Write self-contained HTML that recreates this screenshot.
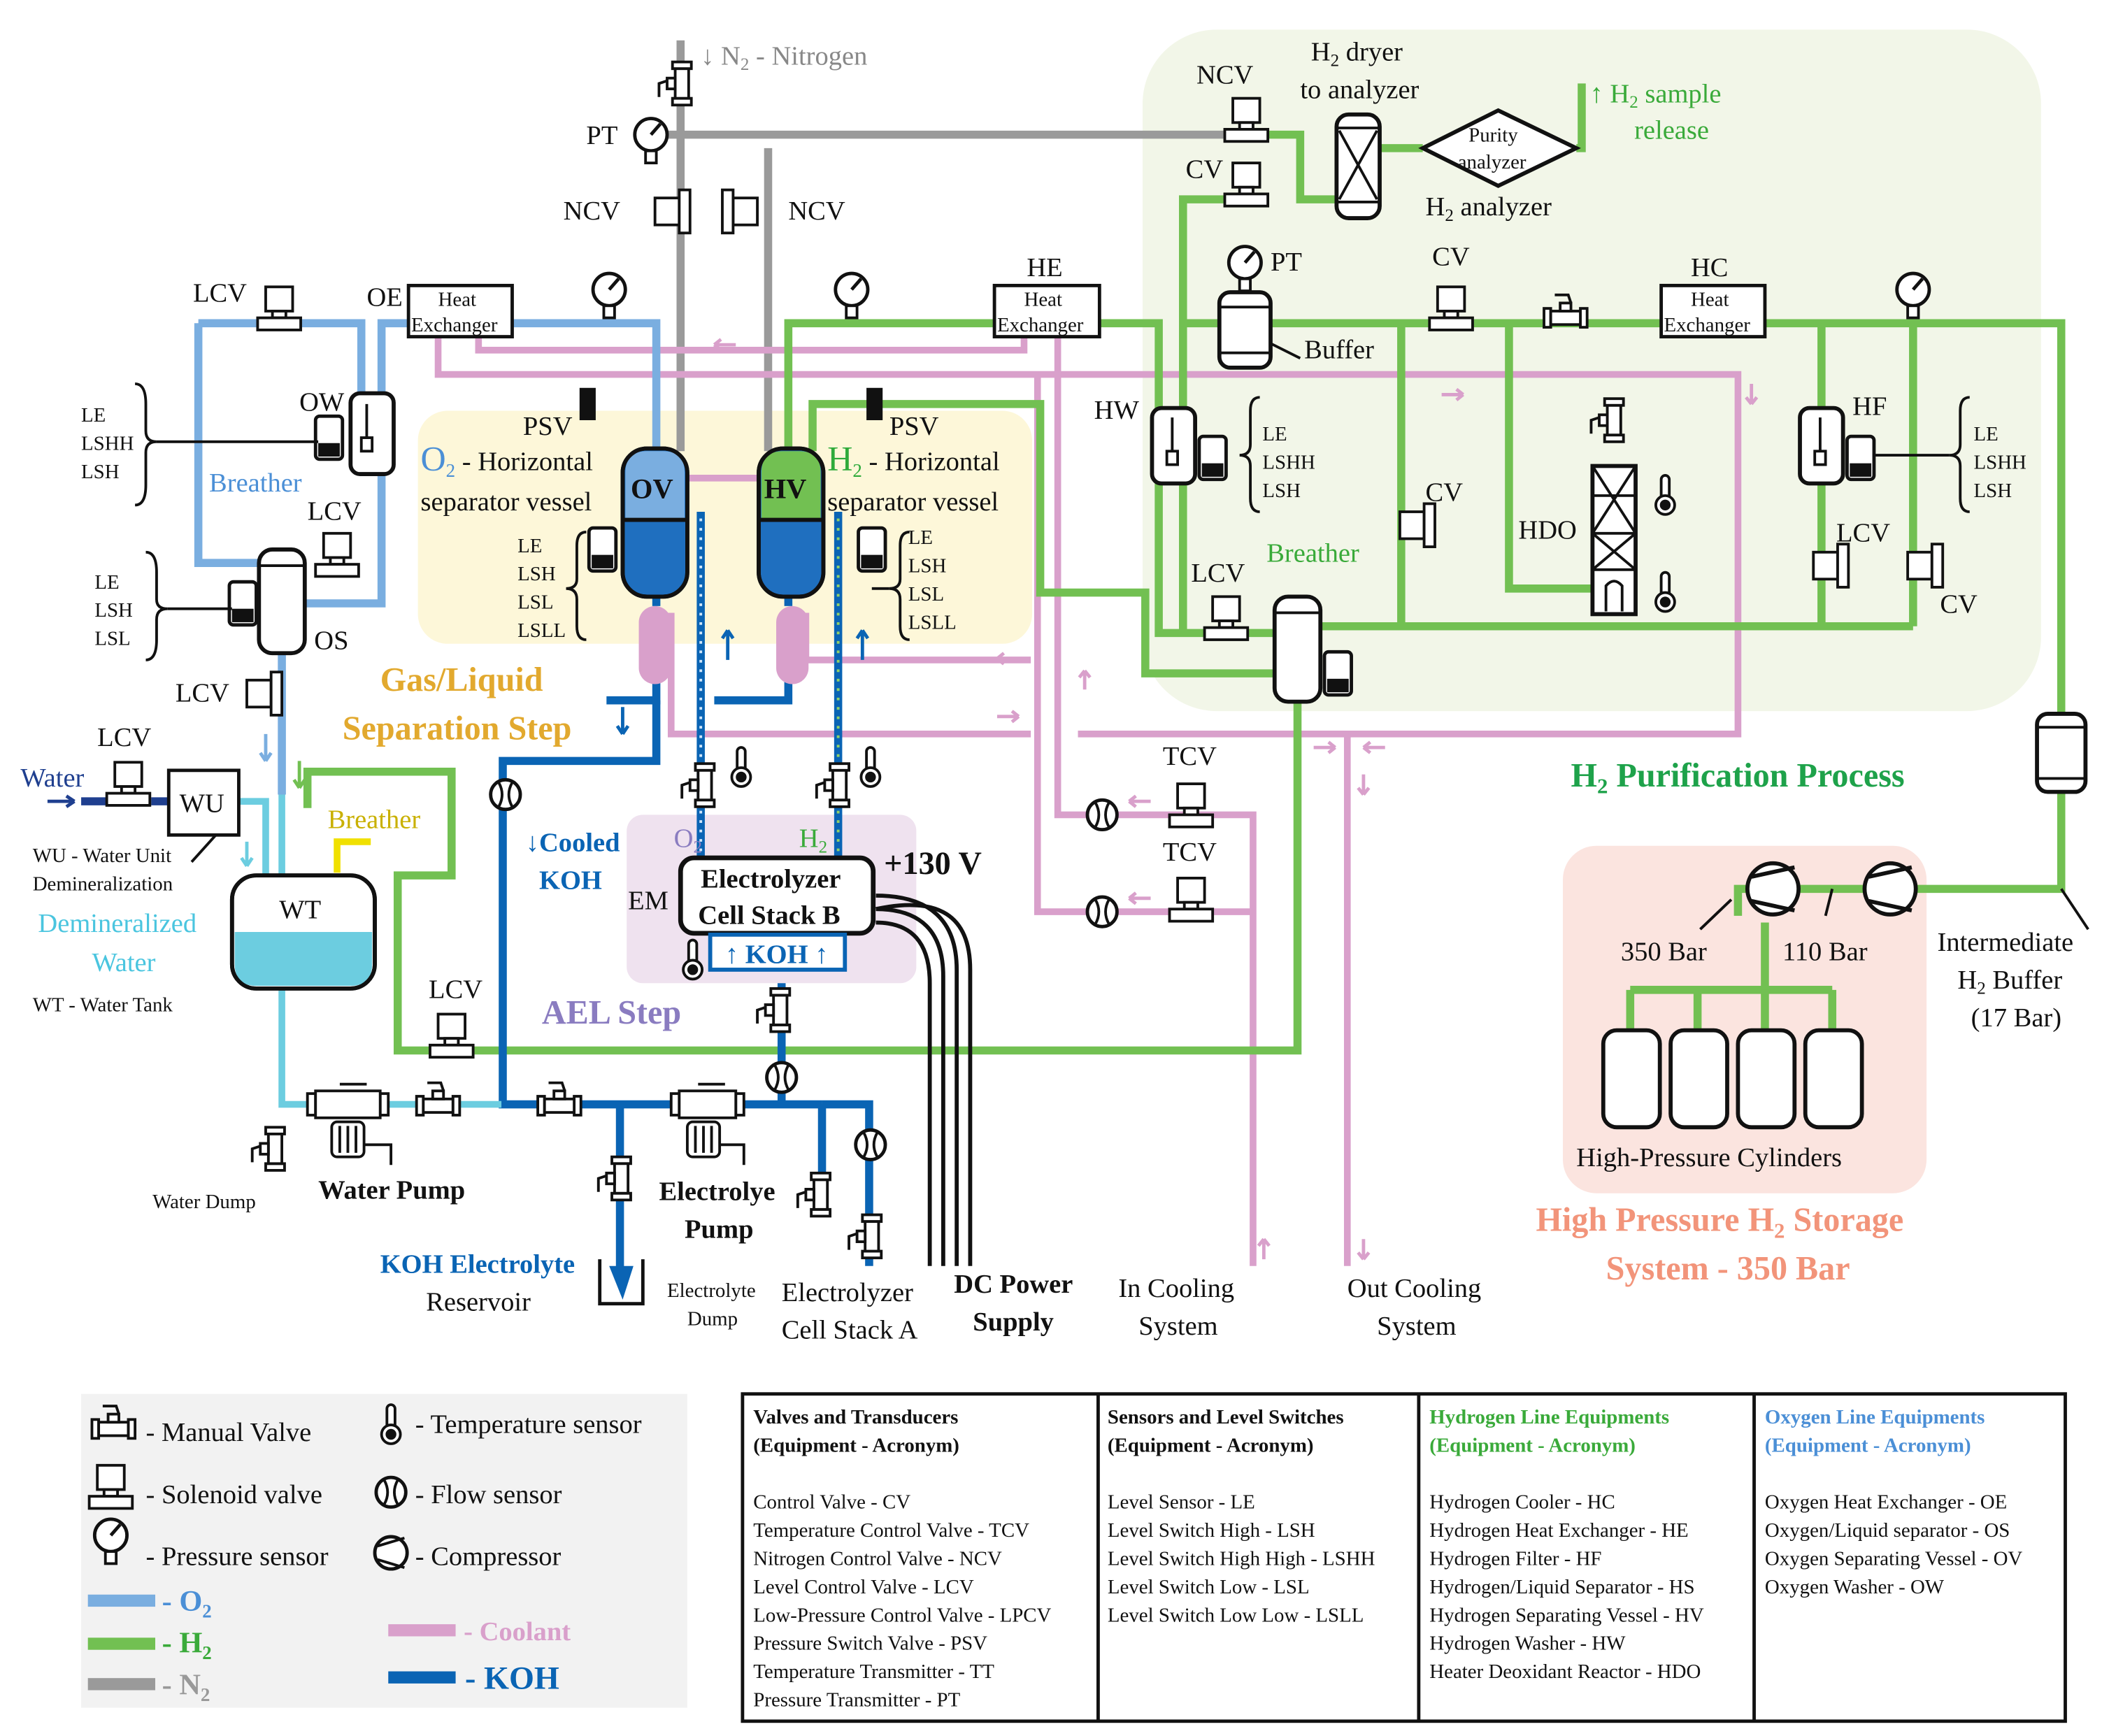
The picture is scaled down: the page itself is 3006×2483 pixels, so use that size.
<!DOCTYPE html>
<html><head><meta charset="utf-8"><style>
html,body{margin:0;padding:0;background:#fff;}
svg{display:block;}
text{font-family:"Liberation Serif",serif;fill:#111;}
</style></head><body>
<svg width="3006" height="2483" viewBox="0 0 1560 1289" xmlns="http://www.w3.org/2000/svg">
<defs>
<g id="sol"><rect x="-10" y="-22" width="20" height="18" fill="#fff" stroke="#111" stroke-width="2"/><rect x="-5" y="-4" width="10" height="5" fill="#fff" stroke="#111" stroke-width="2"/><rect x="-16" y="1" width="32" height="9" fill="#fff" stroke="#111" stroke-width="2"/></g>
<g id="solv"><rect x="4" y="-10" width="18" height="20" fill="#fff" stroke="#111" stroke-width="2"/><rect x="-4" y="-16" width="8" height="32" fill="#fff" stroke="#111" stroke-width="2"/></g>
<g id="gauge"><circle cx="0" cy="0" r="12" fill="#fff" stroke="#111" stroke-width="2.5"/><line x1="0" y1="0" x2="7" y2="-8" stroke="#111" stroke-width="2.5"/><rect x="-4" y="12" width="8" height="9" fill="#fff" stroke="#111" stroke-width="2"/></g>
<g id="flow"><circle r="11" fill="#fff" stroke="#111" stroke-width="2.5"/><path d="M-5,-9 Q0,0 -5,9 M5,-9 Q0,0 5,9" fill="none" stroke="#111" stroke-width="2"/></g>
<g id="mv"><rect x="-16" y="-6" width="5" height="14" fill="#fff" stroke="#111" stroke-width="2"/><rect x="11" y="-6" width="5" height="14" fill="#fff" stroke="#111" stroke-width="2"/><rect x="-11" y="-4" width="22" height="10" fill="#fff" stroke="#111" stroke-width="2"/><rect x="-4" y="-10" width="8" height="6" fill="#fff" stroke="#111" stroke-width="2"/><path d="M-8,-16 L2,-16 L4,-10" fill="none" stroke="#111" stroke-width="2"/></g>
<g id="mvv"><rect x="-6" y="-16" width="14" height="5" fill="#fff" stroke="#111" stroke-width="2"/><rect x="-6" y="11" width="14" height="5" fill="#fff" stroke="#111" stroke-width="2"/><rect x="-4" y="-11" width="10" height="22" fill="#fff" stroke="#111" stroke-width="2"/><rect x="-10" y="-4" width="6" height="8" fill="#fff" stroke="#111" stroke-width="2"/><path d="M-16,10 L-16,0 L-10,-2" fill="none" stroke="#111" stroke-width="2"/></g>
<g id="therm"><rect x="-3" y="-22" width="6" height="18" rx="3" fill="#fff" stroke="#111" stroke-width="2"/><circle cx="0" cy="0" r="7" fill="#fff" stroke="#111" stroke-width="2"/><circle cx="0" cy="0" r="4" fill="#111"/></g>
<g id="ls"><rect x="-10" y="-16" width="20" height="32" rx="3" fill="#fff" stroke="#111" stroke-width="2.5"/><rect x="-8" y="4" width="16" height="10" fill="#111"/></g>
<g id="comp"><circle r="19" fill="#fff" stroke="#111" stroke-width="3"/><path d="M-16,-9 L16,-16 M-16,9 L16,16" stroke="#111" stroke-width="3"/></g>
</defs>

<rect x="848" y="22" width="667" height="506" rx="55" fill="#f2f6e8"/>
<rect x="310" y="305" width="456" height="173" rx="22" fill="#fdf7d9"/>
<rect x="465" y="605" width="215" height="125" rx="12" fill="#efe2ef"/>
<rect x="1160" y="628" width="270" height="258" rx="25" fill="#fbe4df"/>
<rect x="60" y="1035" width="450" height="233" fill="#f2f2f2"/>

<g stroke="#9a9a9a" stroke-width="6" fill="none">
<path d="M505,30 V335"/><path d="M570,110 V335"/><path d="M495,100 H910"/>
</g>
<g stroke="#d9a0cb" stroke-width="5" fill="none">
<path d="M325,250 V278 H1290 V545 H800"/>
<path d="M355,250 V260 H760 V250"/>
<path d="M1000,545 V940"/>
<path d="M785,250 V605 H930 V940"/>
<path d="M770,278 V677 H930"/>
<path d="M510,355 H562"/>
<path d="M498,455 V545 H765"/>
<path d="M598,455 V490 H765"/>
</g>
<g stroke="#7aaee0" stroke-width="6" fill="none">
<path d="M487,335 V240 H380"/>
<path d="M303,240 H283 V448 H226"/>
<path d="M147,240 V418 H192"/>
<path d="M147,240 H268 V292"/>
<path d="M209,485 V590"/>
</g>
<g stroke="#72c052" stroke-width="6" fill="none">
<path d="M585,335 V240 H740"/>
<path d="M815,240 H860 V470 H946"/>
<path d="M603,335 V300 H772 V440 H850 V500 H946"/>
<path d="M878,470 V148 H925"/>
<path d="M940,100 H965 V148 H992"/>
<path d="M1025,110 H1056"/><path d="M1170,110 H1174 V62"/>
<path d="M878,240 H1233"/>
<path d="M1310,240 H1530 V660 H1420"/>
<path d="M1040,240 V465"/><path d="M1120,240 V437 H1182"/>
<path d="M1352,240 V465"/><path d="M1420,240 V465"/>
<path d="M978,465 H1420"/>
<path d="M963,520 V780 H295 V650 H335 V573 H228 V600"/>
<path d="M1383,660 H1335"/><path d="M1297,660 H1290 V680"/>
<path d="M1210,735 H1360"/><path d="M1310,685 V735"/>
<path d="M1210,735 V765 M1260,735 V765 M1310,735 V765 M1360,735 V765"/>
</g>
<g stroke="#0a64b4" stroke-width="6" fill="none">
<path d="M487,442 V450"/><path d="M487,505 V520 H450"/>
<path d="M487,520 V565 H373 V820 H610"/>
<path d="M585,442 V450"/><path d="M585,505 V520 H530"/>
<path d="M610,820 H645 V940"/>
<path d="M580,730 V820"/>
<path d="M460,820 V945"/><path d="M610,820 V895"/>
<path d="M520,380 V640"/><path d="M622,380 V640"/>
</g>
<g stroke="#cfe6fa" stroke-width="2" stroke-dasharray="2 5" fill="none"><path d="M520,385 V635"/></g>
<g stroke="#8fd06a" stroke-width="2" stroke-dasharray="2 5" fill="none"><path d="M622,385 V635"/></g>
<g stroke="#6ccde0" stroke-width="5" fill="none">
<path d="M178,595 H197 V650"/><path d="M209,590 V650"/><path d="M209,735 V820 H372"/>
</g>
<path d="M60,595 H80" stroke="#1f3f8f" stroke-width="6"/>
<path d="M112,595 H125" stroke="#1f3f8f" stroke-width="6"/>
<g stroke="#111" stroke-width="3" fill="none">
<path d="M650,665 Q710,665 710,720 V940"/><path d="M650,675 Q700,675 700,725 V940"/><path d="M650,685 Q690,685 690,730 V940"/>
<path d="M650,675 Q720,660 720,720 V940"/>
</g>

<rect x="462" y="333" width="48" height="110" rx="18" fill="#1f6fbf" stroke="#111" stroke-width="3"/>
<path d="M464,385 V351 Q464,335 480,335 H492 Q508,335 508,351 V385 Z" fill="#7aaee0"/>
<line x1="462" y1="386" x2="510" y2="386" stroke="#111" stroke-width="3"/>
<rect x="462" y="333" width="48" height="110" rx="18" fill="none" stroke="#111" stroke-width="3"/>
<text x="468" y="370" font-size="21" font-weight="bold">OV</text>
<rect x="563" y="333" width="48" height="110" rx="18" fill="#1f6fbf" stroke="#111" stroke-width="3"/>
<path d="M565,385 V351 Q565,335 581,335 H593 Q609,335 609,351 V385 Z" fill="#72c052"/>
<line x1="563" y1="386" x2="611" y2="386" stroke="#111" stroke-width="3"/>
<rect x="563" y="333" width="48" height="110" rx="18" fill="none" stroke="#111" stroke-width="3"/>
<text x="567" y="370" font-size="21" font-weight="bold">HV</text>
<rect x="474" y="450" width="24" height="58" rx="12" fill="#d9a0cb"/>
<rect x="576" y="450" width="24" height="58" rx="12" fill="#d9a0cb"/>
<rect x="430" y="288" width="12" height="24" fill="#111"/><rect x="643" y="288" width="12" height="24" fill="#111"/>

<rect x="260" y="292" width="32" height="60" rx="7" fill="#fff" stroke="#111" stroke-width="3"/><line x1="272" y1="300" x2="272" y2="330" stroke="#111" stroke-width="2"/><rect x="268" y="325" width="8" height="10" fill="#fff" stroke="#111" stroke-width="2"/>
<rect x="192" y="408" width="34" height="77" rx="10" fill="#fff" stroke="#111" stroke-width="3"/><line x1="192" y1="420" x2="226" y2="420" stroke="#111" stroke-width="2"/>
<rect x="855" y="303" width="32" height="56" rx="7" fill="#fff" stroke="#111" stroke-width="3"/><line x1="870" y1="310" x2="870" y2="335" stroke="#111" stroke-width="2"/><rect x="866" y="335" width="8" height="10" fill="#fff" stroke="#111" stroke-width="2"/>
<rect x="1336" y="303" width="32" height="56" rx="7" fill="#fff" stroke="#111" stroke-width="3"/><line x1="1351" y1="310" x2="1351" y2="335" stroke="#111" stroke-width="2"/><rect x="1347" y="335" width="8" height="10" fill="#fff" stroke="#111" stroke-width="2"/>
<rect x="946" y="443" width="34" height="78" rx="10" fill="#fff" stroke="#111" stroke-width="3"/><line x1="946" y1="455" x2="980" y2="455" stroke="#111" stroke-width="2"/>
<rect x="905" y="217" width="38" height="56" rx="8" fill="#fff" stroke="#111" stroke-width="3"/><line x1="905" y1="228" x2="943" y2="228" stroke="#111" stroke-width="2"/><line x1="905" y1="262" x2="943" y2="262" stroke="#111" stroke-width="2"/>
<rect x="992" y="85" width="32" height="77" rx="9" fill="#fff" stroke="#111" stroke-width="3"/><path d="M992,95 H1024 M992,150 H1024 M994,97 L1022,148 M1022,97 L994,148" stroke="#111" stroke-width="2"/>
<rect x="1512" y="530" width="36" height="58" rx="8" fill="#fff" stroke="#111" stroke-width="3"/><line x1="1512" y1="540" x2="1548" y2="540" stroke="#111" stroke-width="2"/><line x1="1512" y1="578" x2="1548" y2="578" stroke="#111" stroke-width="2"/>
<rect x="1182" y="346" width="32" height="110" fill="#fff" stroke="#111" stroke-width="3"/><path d="M1182,368 H1214 M1182,396 H1214 M1182,423 H1214 M1182,346 L1214,396 M1214,346 L1182,396 M1182,396 L1214,423 M1214,396 L1182,423" stroke="#111" stroke-width="2"/><path d="M1192,454 V435 Q1198,428 1204,435 V454" fill="none" stroke="#111" stroke-width="2"/>
<polygon points="1056,110 1112,82 1170,110 1112,138" fill="#fff" stroke="#111" stroke-width="3"/>
<text x="1090" y="105" font-size="15">Purity</text><text x="1082" y="125" font-size="15">analyzer</text>
<rect x="303" y="212" width="77" height="38" fill="#fff" stroke="#111" stroke-width="2.5"/><text x="325" y="227" font-size="15">Heat</text><text x="305" y="246" font-size="15">Exchanger</text>
<rect x="738" y="212" width="78" height="38" fill="#fff" stroke="#111" stroke-width="2.5"/><text x="760" y="227" font-size="15">Heat</text><text x="740" y="246" font-size="15">Exchanger</text>
<rect x="1233" y="212" width="77" height="38" fill="#fff" stroke="#111" stroke-width="2.5"/><text x="1255" y="227" font-size="15">Heat</text><text x="1235" y="246" font-size="15">Exchanger</text>
<rect x="125" y="572" width="52" height="48" fill="#fff" stroke="#111" stroke-width="2.5"/><text x="133" y="603" font-size="20">WU</text>
<rect x="172" y="650" width="106" height="84" rx="18" fill="#fff" stroke="#111" stroke-width="3"/>
<path d="M174,692 H276 V716 Q276,732 260,732 H190 Q174,732 174,716 Z" fill="#6ccde0"/>
<rect x="172" y="650" width="106" height="84" rx="18" fill="none" stroke="#111" stroke-width="3"/>
<text x="207" y="682" font-size="20">WT</text>
<path d="M250,648 V625 H275" stroke="#f0e000" stroke-width="5" fill="none"/>
<rect x="505" y="637" width="143" height="56" rx="10" fill="#fff" stroke="#111" stroke-width="3.5"/>
<text x="520" y="659" font-size="20" font-weight="bold">Electrolyzer</text><text x="518" y="686" font-size="20" font-weight="bold">Cell Stack B</text>
<rect x="527" y="694" width="100" height="26" fill="#fff" stroke="#0a64b4" stroke-width="3"/>
<text x="538" y="715" font-size="20" font-weight="bold" style="fill:#0a64b4">↑ KOH ↑</text>
<path d="M445,935 V968 H477 V935" fill="none" stroke="#111" stroke-width="2.5"/><polygon points="452,940 470,940 462,965" fill="#0a64b4"/>
<g fill="#fff" stroke="#111" stroke-width="3">
<rect x="1190" y="765" width="42" height="72" rx="10"/><rect x="1240" y="765" width="42" height="72" rx="10"/><rect x="1290" y="765" width="42" height="72" rx="10"/><rect x="1340" y="765" width="42" height="72" rx="10"/>
</g>
<use href="#comp" x="1316" y="660"/><use href="#comp" x="1403" y="660"/>
<path d="M1285,668 L1262,690 M1360,660 L1355,680 M1530,660 L1550,690" stroke="#111" stroke-width="2"/>

<use href="#sol" x="207" y="235"/><use href="#sol" x="250" y="418"/><use href="#sol" x="95" y="588"/>
<use href="#sol" x="925" y="95"/><use href="#sol" x="925" y="143"/><use href="#sol" x="1077" y="235"/>
<use href="#sol" x="910" y="465"/><use href="#sol" x="884" y="604"/><use href="#sol" x="884" y="674"/><use href="#sol" x="335" y="775"/>
<use href="#solv" x="205" y="515" transform="rotate(180 205 515)"/>
<use href="#solv" x="508" y="157" transform="rotate(180 508 157)"/><use href="#solv" x="540" y="157"/>
<use href="#solv" x="1043" y="390" transform="rotate(180 1052 390)"/><use href="#solv" x="1350" y="420" transform="rotate(180 1359 420)"/><use href="#solv" x="1420" y="420" transform="rotate(180 1429 420)"/>
<use href="#gauge" x="483" y="100"/><use href="#gauge" x="452" y="215"/><use href="#gauge" x="632" y="215"/><use href="#gauge" x="924" y="195"/><use href="#gauge" x="1420" y="215"/>
<use href="#flow" x="375" y="590"/><use href="#flow" x="580" y="800"/><use href="#flow" x="646" y="850"/><use href="#flow" x="818" y="605"/><use href="#flow" x="818" y="677"/>
<use href="#mv" x="1162" y="235"/><use href="#mv" x="325" y="820"/><use href="#mv" x="415" y="820"/>
<use href="#mvv" x="505" y="62"/><use href="#mvv" x="522" y="583"/><use href="#mvv" x="622" y="583"/><use href="#mvv" x="1197" y="312"/>
<use href="#mvv" x="203" y="853"/><use href="#mvv" x="460" y="875"/><use href="#mvv" x="608" y="887"/><use href="#mvv" x="646" y="918"/><use href="#mvv" x="578" y="750"/>
<use href="#therm" x="550" y="577"/><use href="#therm" x="646" y="577"/><use href="#therm" x="514" y="720"/><use href="#therm" x="1236" y="375"/><use href="#therm" x="1236" y="447"/>
<use href="#ls" x="244" y="325"/><use href="#ls" x="180" y="448"/><use href="#ls" x="447" y="408"/><use href="#ls" x="647" y="408"/><use href="#ls" x="900" y="340"/><use href="#ls" x="1381" y="340"/><use href="#ls" x="993" y="500"/>
<g stroke="#111" stroke-width="2" fill="#fff">
<rect x="228" y="812" width="6" height="16"/><rect x="282" y="812" width="6" height="16"/><rect x="234" y="810" width="48" height="20"/><rect x="246" y="833" width="24" height="26" rx="4"/>
<rect x="498" y="812" width="6" height="16"/><rect x="546" y="812" width="6" height="16"/><rect x="504" y="810" width="42" height="20"/><rect x="510" y="833" width="24" height="26" rx="4"/>
</g>
<g stroke="#111" stroke-width="2" fill="none">
<path d="M252,836 V856 M258,836 V856 M264,836 V856 M516,836 V856 M522,836 V856 M528,836 V856"/>
<path d="M270,850 H290 V865 M534,850 H552 V865 M252,805 H272 M518,805 H538"/>
</g>
<g stroke="#111" stroke-width="2" fill="none">
<path d="M100,285 Q108,285 108,300 V320 Q108,328 116,328 Q108,328 108,336 V360 Q108,375 100,375"/><line x1="116" y1="328" x2="236" y2="328"/>
<path d="M108,410 Q116,410 116,425 V445 Q116,452 124,452 Q116,452 116,460 V475 Q116,490 108,490"/><line x1="124" y1="452" x2="172" y2="452"/>
<path d="M435,395 Q428,395 428,405 V430 Q428,437 420,437 Q428,437 428,445 V465 Q428,475 435,475"/>
<path d="M675,395 Q668,395 668,405 V430 Q668,437 660,437 Q668,437 668,445 V465 Q668,475 675,475"/><line x1="647" y1="437" x2="660" y2="437"/>
<path d="M935,295 Q928,295 928,305 V330 Q928,338 920,338 Q928,338 928,346 V370 Q928,380 935,380"/>
<path d="M1462,295 Q1455,295 1455,305 V330 Q1455,338 1447,338 Q1455,338 1455,346 V370 Q1455,380 1462,380"/><line x1="1390" y1="338" x2="1447" y2="338"/>
<path d="M943,255 L965,266 M1262,690 L1285,668 M142,640 L160,620"/>
</g>
<g stroke="#d9a0cb" stroke-width="2.5" fill="none">
<path d="M530,256 H546 M530,256 l5,-4 M530,256 l5,4"/>
<path d="M1070,293 H1086 M1086,293 l-5,-4 M1086,293 l-5,4"/>
<path d="M740,489 H756 M740,489 l5,-4 M740,489 l5,4"/>
<path d="M740,532 H756 M756,532 l-5,-4 M756,532 l-5,4"/>
<path d="M975,555 H991 M991,555 l-5,-4 M991,555 l-5,4"/>
<path d="M1012,555 H1028 M1012,555 l5,-4 M1012,555 l5,4"/>
<path d="M838,595 H854 M838,595 l5,-4 M838,595 l5,4"/>
<path d="M838,667 H854 M838,667 l5,-4 M838,667 l5,4"/>
<path d="M1300,285 V300 M1300,300 l-4,-5 M1300,300 l4,-5"/>
<path d="M805,512 V498 M805,498 l-4,5 M805,498 l4,5"/>
<path d="M1012,575 V590 M1012,590 l-4,-5 M1012,590 l4,-5"/>
<path d="M938,935 V920 M938,920 l-4,5 M938,920 l4,5"/>
<path d="M1012,920 V935 M1012,935 l-4,-5 M1012,935 l4,-5"/>
</g>
<g stroke="#0a64b4" stroke-width="2.5" fill="none">
<path d="M540,490 V468 M540,468 l-4,6 M540,468 l4,6"/>
<path d="M640,490 V468 M640,468 l-4,6 M640,468 l4,6"/>
<path d="M462,525 V545 M462,545 l-4,-6 M462,545 l4,-6"/>
</g>
<path d="M197,545 V565 M197,565 l-4,-6 M197,565 l4,-6" stroke="#7aaee0" stroke-width="2.5" fill="none"/>
<path d="M183,625 V643 M183,643 l-4,-6 M183,643 l4,-6" stroke="#6ccde0" stroke-width="2.5" fill="none"/>
<path d="M222,565 V585 M222,585 l-4,-6 M222,585 l4,-6" stroke="#72c052" stroke-width="2.5" fill="none"/>
<path d="M35,595 H55 M55,595 l-6,-4 M55,595 l-6,4" stroke="#1f3f8f" stroke-width="2.5" fill="none"/>

<g font-size="20">
<text x="520" y="48" style="fill:#888">↓ N<tspan font-size="13" dy="4">2</tspan><tspan dy="-4"> - Nitrogen</tspan></text>
<text x="435" y="107">PT</text><text x="418" y="163">NCV</text><text x="585" y="163">NCV</text>
<text x="888" y="62">NCV</text><text x="973" y="45">H<tspan font-size="13" dy="4">2</tspan><tspan dy="-4"> dryer</tspan></text><text x="965" y="73">to analyzer</text>
<text x="880" y="132">CV</text><text x="1058" y="160">H<tspan font-size="13" dy="4">2</tspan><tspan dy="-4"> analyzer</tspan></text>
<text x="1180" y="76" style="fill:#3aaa3a">↑ H<tspan font-size="13" dy="4">2</tspan><tspan dy="-4"> sample</tspan></text><text x="1213" y="103" style="fill:#3aaa3a">release</text>
<text x="943" y="201">PT</text><text x="968" y="266">Buffer</text><text x="1063" y="197">CV</text><text x="1255" y="205">HC</text><text x="762" y="205">HE</text>
<text x="143" y="224">LCV</text><text x="272" y="227">OE</text><text x="222" y="305">OW</text>
<text x="155" y="365" style="fill:#4b8fd6">Breather</text><text x="228" y="386">LCV</text><text x="233" y="482">OS</text>
<text x="130" y="521">LCV</text><text x="72" y="554">LCV</text><text x="15" y="584" style="fill:#1f3f8f">Water</text>
<text x="28" y="692" style="fill:#4ac5df">Demineralized</text><text x="68" y="721" style="fill:#4ac5df">Water</text>
<text x="243" y="615" style="fill:#c9b000">Breather</text><text x="318" y="741">LCV</text>
<text x="388" y="323">PSV</text><text x="660" y="323">PSV</text>
<text x="312" y="349"><tspan style="fill:#4b8fd6" font-size="26">O</tspan><tspan style="fill:#4b8fd6" font-size="14" dy="5">2</tspan><tspan dy="-5"> - Horizontal</tspan></text><text x="312" y="379">separator vessel</text>
<text x="614" y="349"><tspan style="fill:#2eaa3a" font-size="26">H</tspan><tspan style="fill:#2eaa3a" font-size="14" dy="5">2</tspan><tspan dy="-5"> - Horizontal</tspan></text><text x="614" y="379">separator vessel</text>
<text x="812" y="311">HW</text><text x="1058" y="372">CV</text><text x="884" y="432">LCV</text><text x="940" y="417" style="fill:#3aaa3a">Breather</text>
<text x="1127" y="400">HDO</text><text x="1375" y="308">HF</text><text x="1363" y="402">LCV</text><text x="1440" y="455">CV</text>
<text x="863" y="568">TCV</text><text x="863" y="639">TCV</text><text x="466" y="675">EM</text>
<text x="500" y="629" style="fill:#8a7cc0">O<tspan font-size="13" dy="4">2</tspan></text><text x="593" y="629" style="fill:#3aaa3a">H<tspan font-size="13" dy="4">2</tspan></text>
<text x="1203" y="713">350 Bar</text><text x="1323" y="713">110 Bar</text><text x="1170" y="866">High-Pressure Cylinders</text>
<text x="1438" y="706">Intermediate</text><text x="1453" y="734">H<tspan font-size="13" dy="4">2</tspan><tspan dy="-4"> Buffer</tspan></text><text x="1463" y="762">(17 Bar)</text>
<text x="580" y="966">Electrolyzer</text><text x="580" y="994">Cell Stack A</text>
<text x="830" y="963">In Cooling</text><text x="845" y="991">System</text><text x="1000" y="963">Out Cooling</text><text x="1022" y="991">System</text>
<text x="316" y="973">Reservoir</text>
</g>
<g font-size="15">
<text x="60" y="313">LE</text><text x="60" y="334">LSHH</text><text x="60" y="355">LSH</text>
<text x="70" y="437">LE</text><text x="70" y="458">LSH</text><text x="70" y="479">LSL</text>
<text x="384" y="410">LE</text><text x="384" y="431">LSH</text><text x="384" y="452">LSL</text><text x="384" y="473">LSLL</text>
<text x="674" y="404">LE</text><text x="674" y="425">LSH</text><text x="674" y="446">LSL</text><text x="674" y="467">LSLL</text>
<text x="937" y="327">LE</text><text x="937" y="348">LSHH</text><text x="937" y="369">LSH</text>
<text x="1465" y="327">LE</text><text x="1465" y="348">LSHH</text><text x="1465" y="369">LSH</text>
<text x="24" y="640">WU - Water Unit</text><text x="24" y="661">Demineralization</text><text x="24" y="751">WT - Water Tank</text>
<text x="113" y="897">Water Dump</text><text x="495" y="963">Electrolyte</text><text x="510" y="984">Dump</text>
</g>
<g font-weight="bold">
<text x="656" y="649" font-size="24">+130 V</text>
<text x="390" y="632" font-size="20" style="fill:#0a64b4">↓Cooled</text><text x="400" y="660" font-size="20" style="fill:#0a64b4">KOH</text>
<text x="402" y="760" font-size="25" style="fill:#8a7cc0">AEL Step</text>
<text x="282" y="513" font-size="25" style="fill:#e2a92e">Gas/Liquid</text><text x="254" y="549" font-size="25" style="fill:#e2a92e">Separation Step</text>
<text x="1166" y="584" font-size="25" style="fill:#1ea24a">H<tspan font-size="16" dy="5">2</tspan><tspan dy="-5"> Purification Process</tspan></text>
<text x="1140" y="914" font-size="25" style="fill:#f2947a">High Pressure H<tspan font-size="16" dy="5">2</tspan><tspan dy="-5"> Storage</tspan></text><text x="1192" y="950" font-size="25" style="fill:#f2947a">System - 350 Bar</text>
<text x="236" y="890" font-size="20">Water Pump</text><text x="489" y="891" font-size="20">Electrolye</text><text x="508" y="919" font-size="20">Pump</text>
<text x="282" y="945" font-size="20" style="fill:#0a64b4">KOH Electrolyte</text>
<text x="708" y="960" font-size="20">DC Power</text><text x="722" y="988" font-size="20">Supply</text>
</g>

<use href="#mv" x="84" y="1060"/><use href="#sol" x="82" y="1110"/><use href="#gauge" x="82" y="1140"/>
<use href="#therm" x="290" y="1065"/><use href="#flow" x="290" y="1108"/>
<circle cx="290" cy="1153" r="12" fill="#fff" stroke="#111" stroke-width="2.5"/><path d="M280,1148 L300,1142 M280,1158 L300,1164" stroke="#111" stroke-width="2"/>
<g font-size="20">
<text x="108" y="1070">- Manual Valve</text><text x="308" y="1064">- Temperature sensor</text>
<text x="108" y="1116">- Solenoid valve</text><text x="308" y="1116">- Flow sensor</text>
<text x="108" y="1162">- Pressure sensor</text><text x="308" y="1162">- Compressor</text>
</g>
<rect x="65" y="1184" width="50" height="9" fill="#7aaee0"/><rect x="65" y="1216" width="50" height="9" fill="#72c052"/><rect x="65" y="1246" width="50" height="9" fill="#9a9a9a"/>
<rect x="288" y="1206" width="50" height="9" fill="#d9a0cb"/><rect x="288" y="1241" width="50" height="9" fill="#0a64b4"/>
<g font-size="22" font-weight="bold">
<text x="120" y="1196" style="fill:#4b8fd6">- O<tspan font-size="14" dy="5">2</tspan></text>
<text x="120" y="1227" style="fill:#3aaa3a">- H<tspan font-size="14" dy="5">2</tspan></text>
<text x="120" y="1258" style="fill:#999">- N<tspan font-size="14" dy="5">2</tspan></text>
<text x="344" y="1218" font-size="20" style="fill:#d9a0cb">- Coolant</text>
<text x="345" y="1254" font-size="24" style="fill:#0a64b4">- KOH</text>
</g>

<rect x="551" y="1035" width="982" height="243" fill="#fff" stroke="#111" stroke-width="2.5"/>
<path d="M815,1035 V1278 M1053,1035 V1278 M1302,1035 V1278" stroke="#111" stroke-width="2.5"/>
<g font-size="15">
<text x="559" y="1057" font-weight="bold">Valves and Transducers</text><text x="559" y="1078" font-weight="bold">(Equipment - Acronym)</text>
<text x="559" y="1120">Control Valve - CV</text><text x="559" y="1141">Temperature Control Valve - TCV</text><text x="559" y="1162">Nitrogen Control Valve - NCV</text><text x="559" y="1183">Level Control Valve - LCV</text><text x="559" y="1204">Low-Pressure Control Valve - LPCV</text><text x="559" y="1225">Pressure Switch Valve - PSV</text><text x="559" y="1246">Temperature Transmitter - TT</text><text x="559" y="1267">Pressure Transmitter - PT</text>
<text x="822" y="1057" font-weight="bold">Sensors and Level Switches</text><text x="822" y="1078" font-weight="bold">(Equipment - Acronym)</text>
<text x="822" y="1120">Level Sensor - LE</text><text x="822" y="1141">Level Switch High - LSH</text><text x="822" y="1162">Level Switch High High - LSHH</text><text x="822" y="1183">Level Switch Low - LSL</text><text x="822" y="1204">Level Switch Low Low - LSLL</text>
<text x="1061" y="1057" font-weight="bold" style="fill:#3aaa3a">Hydrogen Line Equipments</text><text x="1061" y="1078" font-weight="bold" style="fill:#3aaa3a">(Equipment - Acronym)</text>
<text x="1061" y="1120">Hydrogen Cooler - HC</text><text x="1061" y="1141">Hydrogen Heat Exchanger - HE</text><text x="1061" y="1162">Hydrogen Filter - HF</text><text x="1061" y="1183">Hydrogen/Liquid Separator - HS</text><text x="1061" y="1204">Hydrogen Separating Vessel - HV</text><text x="1061" y="1225">Hydrogen Washer - HW</text><text x="1061" y="1246">Heater Deoxidant Reactor - HDO</text>
<text x="1310" y="1057" font-weight="bold" style="fill:#4b8fd6">Oxygen Line Equipments</text><text x="1310" y="1078" font-weight="bold" style="fill:#4b8fd6">(Equipment - Acronym)</text>
<text x="1310" y="1120">Oxygen Heat Exchanger - OE</text><text x="1310" y="1141">Oxygen/Liquid separator - OS</text><text x="1310" y="1162">Oxygen Separating Vessel - OV</text><text x="1310" y="1183">Oxygen Washer - OW</text>
</g>
</svg>
</body></html>
